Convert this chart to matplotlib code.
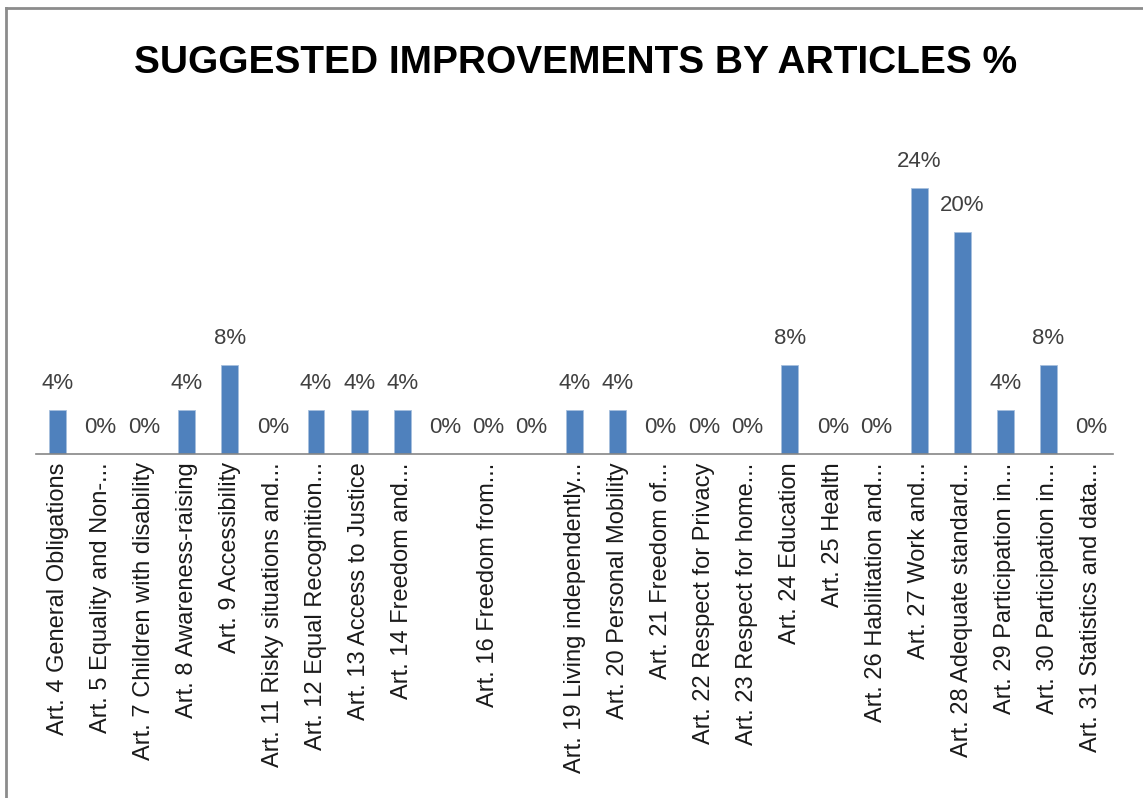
import matplotlib
matplotlib.use("Agg")
import matplotlib.pyplot as plt
from matplotlib import font_manager

# data
articles = [
    "Art. 4 General Obligations", "Art. 5 Equality and Non-...", "Art. 7 Children with disability",
    "Art. 8 Awareness-raising", "Art. 9 Accessibility", "Art. 11 Risky situations and...",
    "Art. 12 Equal Recognition...", "Art. 13 Access to Justice", "Art. 14 Freedom and...",
    "", "Art. 16 Freedom from...", "",
    "Art. 19 Living independently...", "Art. 20 Personal Mobility", "Art. 21 Freedom of...",
    "Art. 22 Respect for Privacy", "Art. 23 Respect for home...", "Art. 24 Education",
    "Art. 25 Health", "Art. 26 Habilitation and...", "Art. 27 Work and...",
    "Art. 28 Adequate standard...", "Art. 29 Participation in...", "Art. 30 Participation in...",
    "Art. 31 Statistics and data...",
]
percent = [4, 0, 0, 4, 8, 0, 4, 4, 4, 0, 0, 0, 4, 4, 0, 0, 0, 8, 0, 0, 24, 20, 4, 8, 0]

names = {f.name for f in font_manager.fontManager.ttflist}
narrow = 'Liberation Sans Narrow' if 'Liberation Sans Narrow' in names else 'Liberation Sans'
title_size = 32 if narrow == 'Liberation Sans Narrow' else 28

fig = plt.figure(figsize=(11.43, 7.98), dpi=100)
ax = fig.add_axes([36 / 1143, 1 - 454 / 798, 1077 / 1143, (454 - 121.5) / 798])

x = range(len(percent))
bars = ax.bar(x, percent, width=0.39, color='#4F81BD', edgecolor='#A7C0DE', linewidth=0.6)
for xi, v in zip(x, percent):
    ax.annotate(f"{v}%", (xi, v), xytext=(0, 11.5), textcoords='offset points',
                ha='center', va='bottom', fontsize=16, color='#404040', family='Liberation Sans')

ax.set_xlim(-0.5, len(percent) - 0.5)
ax.set_ylim(0, 30)
ax.set_yticks([])
ax.set_xticks(list(x))
ax.set_xticklabels(articles, rotation=90, fontsize=17, color='#1a1a1a', family='Liberation Sans')
ax.tick_params(axis='x', length=0, pad=6)
for s in ['top', 'right', 'left']:
    ax.spines[s].set_visible(False)
ax.spines['bottom'].set_color('#868686')
ax.spines['bottom'].set_linewidth(1.2)

fig.text(576 / 1143, 1 - 63 / 798, "SUGGESTED IMPROVEMENTS BY ARTICLES %", ha='center', va='center',
         fontsize=title_size, fontweight='bold', family=narrow, color='black')

# grey frame lines on top and left like the screenshot
fig.add_artist(plt.Line2D([6 / 1143, 1], [1 - 8 / 798, 1 - 8 / 798], color='#8c8c8c', lw=2))
fig.add_artist(plt.Line2D([6 / 1143, 6 / 1143], [0, 1 - 8 / 798], color='#8c8c8c', lw=2))

fig.savefig("out.png", dpi=100)
